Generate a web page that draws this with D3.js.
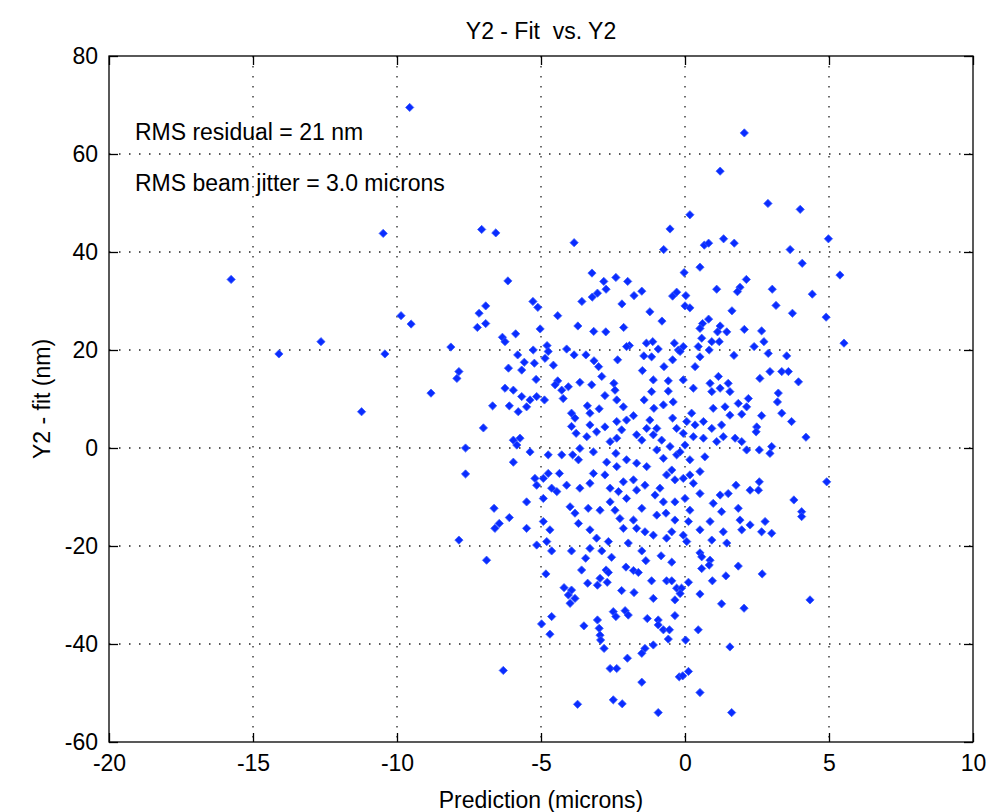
<!DOCTYPE html>
<html>
<head>
<meta charset="utf-8">
<script src="https://cdn.jsdelivr.net/npm/d3@7"></script>
<style>
  body { margin: 0; background: #fff; }
  text { font-family: "Liberation Sans", Arial, sans-serif; fill: #000; }
</style>
</head>
<body>
<svg id="chart"></svg>
<script>
// axis ticks
const xTicks = [-20, -15, -10, -5, 0, 5, 10];
const yTicks = [-60, -40, -20, 0, 20, 40, 60, 80];

// [prediction (microns), Y2 - fit (nm)]
const outlierPoints = [
  [-10.48,43.8],[-7.06,44.6],[-15.76,34.4],[-9.86,27.0],[-9.51,25.3],[-6.92,29.0],[-7.15,27.5],[-6.92,25.4],
  [-7.21,24.6],[-12.64,21.7],[-14.10,19.2],[-10.42,19.2],[-8.13,20.6],[-7.85,15.6],[-7.92,14.2],[-8.82,11.2],
  [-11.23,7.4],[-7.00,4.1],[-7.62,0.0],[-7.62,-5.3],[-7.85,-18.8],[-6.89,-22.9],[-9.56,69.5],[2.06,64.3],[1.22,56.5]
];
const upperLeftPoints = [
  [-6.57,43.9],[-3.85,41.9],[-0.52,44.7],[-0.74,40.5],[-6.15,34.1],[-3.23,35.7],[-2.82,34.0],[-2.40,34.8],
  [-1.99,34.0],[-2.74,32.4],[-3.04,31.6],[-3.22,30.8],[-3.58,29.9],[-1.50,32.0],[-1.77,31.1],[-2.19,29.4],
  [-1.22,27.8],[-5.28,29.9],[-5.11,28.7],[-4.42,27.0],[-3.72,24.9],[-5.03,24.3],[-3.17,23.8],[-2.75,23.7],
  [-2.13,24.6],[-0.80,25.9],[-0.43,31.0],[-0.29,31.8],[-6.34,22.6],[-6.25,21.7],[-5.88,23.3],[-1.93,20.9],
  [-4.79,20.9],[-5.27,20.0],[-4.75,19.7],[-4.11,20.2],[-3.85,19.0],[-3.44,19.0],[-3.16,17.8],[-3.00,16.6],
  [-2.34,18.0],[-1.34,21.4],[-1.12,21.7],[-0.93,20.2],[-1.43,18.8],[-1.16,18.6],[-1.48,15.8],[-0.73,16.6],
  [-0.43,18.0],[-0.37,21.4],[-0.23,20.0],[-5.81,19.0],[-5.58,17.5],[-5.67,15.9],[-6.13,16.3],[-4.57,16.9],
  [-5.23,17.3],[-4.86,18.3],[-2.03,20.7]
];
const upperRightPoints = [
  [2.88,49.9],[4.00,48.7],[0.17,47.6],[1.34,42.7],[0.67,41.4],[0.82,41.8],[1.71,41.8],[4.98,42.7],
  [3.65,40.5],[4.07,37.7],[0.52,36.9],[-0.03,35.8],[2.13,34.4],[1.91,32.8],[1.82,31.9],[1.10,32.4],
  [3.03,32.4],[5.38,35.3],[4.42,31.4],[3.16,29.1],[0.03,31.1],[0.00,29.0],[0.17,28.6],[1.63,28.0],
  [3.73,27.5],[4.90,26.7],[0.82,26.3],[0.61,25.4],[0.52,24.4],[1.22,24.9],[1.13,23.7],[1.45,23.7],
  [2.06,24.2],[2.66,23.9],[2.74,21.7],[0.58,22.4],[0.93,21.7],[1.19,21.7],[0.46,20.7],[0.84,20.0],
  [2.40,20.7],[2.89,19.3],[1.70,18.9],[3.53,18.8],[5.52,21.4],[0.52,18.6],[0.35,16.6],[-0.06,20.7],
  [-0.17,19.7],[2.95,15.6],[3.36,15.6],[3.59,15.6]
];
const middleLeftPoints = [
  [-5.17,14.0],[-4.42,13.7],[-3.65,13.4],[-3.24,12.9],[-2.89,14.6],[-2.47,13.2],[-2.43,11.8],[-1.10,13.9],
  [-0.58,13.7],[-0.58,11.6],[-0.75,8.8],[-5.96,11.8],[-5.67,10.5],[-5.38,9.8],[-5.15,10.5],[-5.50,8.4],
  [-5.79,7.4],[-6.10,8.6],[-6.68,8.6],[-4.88,9.8],[-4.28,11.8],[-4.23,10.1],[-4.05,12.5],[-3.39,8.6],
  [-2.98,8.0],[-2.78,10.7],[-2.37,9.8],[-2.14,8.4],[-1.79,6.6],[-2.03,5.7],[-1.42,9.8],[-1.08,8.1],
  [-1.22,5.7],[-0.98,4.0],[-1.33,4.0],[-0.41,9.4],[-0.43,6.1],[-0.29,4.0],[-3.94,4.4],[-3.78,3.0],
  [-3.30,4.7],[-3.07,3.3],[-3.41,2.3],[-2.78,4.3],[-2.37,5.4],[-2.20,3.7],[-2.37,2.0],[-2.60,1.3],
  [-1.68,2.7],[-1.50,1.6],[-1.10,2.7],[-0.81,1.6],[-0.52,0.3],[-0.29,-1.4],[-5.96,1.6],[-5.73,2.0],
  [-5.84,0.6],[-5.38,-0.8],[-4.75,-1.4],[-4.28,-1.4],[-3.90,-1.4],[-3.65,-0.1],[-3.18,-0.8],[-3.70,-2.4],
  [-5.96,-2.9],[-2.72,-2.9],[-2.40,-1.1],[-2.03,-2.4],[-1.68,-3.1],[-1.33,-3.8],[-0.98,-0.4],[-0.75,-2.1],
  [-0.46,-4.5],[-0.35,-6.5],[-0.64,-5.5],[-4.75,-5.2],[-4.92,-6.2],[-5.21,-6.2],[-5.15,-7.6],[-4.36,-5.2],
  [-4.63,-8.2],[-4.45,-8.9],[-4.11,-7.6],[-3.65,-8.2],[-3.30,-7.2],[-3.18,-5.2],[-2.78,-5.5],[-2.60,-8.2],
  [-2.31,-8.9],[-2.37,-3.8],[-2.14,-6.9],[-1.79,-6.5],[-1.68,-8.6],[-2.03,-10.3],[-1.39,-7.6],[-1.04,-9.6],
  [-0.87,-8.2],[-0.75,-11.0],[-5.50,-11.0],[-4.92,-10.3],[-3.99,-12.0],[-3.82,-13.3],[-3.36,-12.3],[-2.95,-12.7],
  [-2.60,-11.0],[-2.43,-12.7],[-2.26,-14.4],[-1.79,-14.7],[-1.50,-12.3],[-1.68,-16.4],[-0.98,-13.7],[-0.66,-13.3],
  [-0.35,-11.0],[-6.63,-12.3],[-6.10,-14.2],[-6.45,-15.4],[-6.60,-16.4],[-5.50,-16.4],[-4.92,-15.0],[-4.69,-16.7],
  [-4.80,-19.1],[-3.70,-15.4],[-3.30,-16.7],[-3.07,-18.4],[-2.66,-19.1],[-3.30,-20.5],[-2.14,-16.4],[-1.97,-19.4],
  [-1.39,-17.1],[-1.10,-17.8],[-0.64,-18.4],[-0.35,-14.7],[-0.46,-17.1],[-5.15,-19.8],[-4.51,12.9],[-6.25,12.2],
  [-3.30,7.1],[-3.94,7.1],[-3.82,6.1],[-1.16,11.5]
];
const middleRightPoints = [
  [-0.06,13.9],[0.29,12.2],[0.87,13.2],[0.93,11.5],[1.22,12.2],[1.50,13.2],[1.56,11.5],[1.16,14.6],
  [2.60,14.2],[3.94,13.5],[3.24,11.2],[3.21,9.4],[2.20,10.1],[0.98,8.1],[1.39,8.4],[1.85,9.1],
  [2.14,8.4],[1.56,6.7],[1.97,6.9],[2.66,6.6],[3.36,7.1],[3.70,5.4],[2.49,4.3],[2.47,3.3],
  [4.20,2.2],[0.23,7.1],[0.06,5.4],[0.35,4.7],[0.64,5.4],[0.93,4.0],[1.27,4.7],[-0.06,3.0],
  [0.29,2.3],[0.64,2.0],[1.10,1.3],[1.33,2.3],[1.74,2.0],[1.97,1.3],[2.14,-0.4],[2.58,-0.4],
  [2.95,-1.1],[3.01,0.3],[0.69,-1.8],[0.17,-2.4],[0.52,-4.8],[0.17,-5.5],[-0.06,-6.2],[0.29,-7.2],
  [1.77,-7.6],[2.26,-8.6],[2.58,-6.9],[2.55,-8.6],[0.52,-9.3],[1.22,-9.6],[1.50,-9.3],[0.98,-11.3],
  [0.00,-10.3],[4.92,-6.9],[3.78,-10.6],[4.05,-13.0],[4.05,-14.0],[1.85,-12.3],[1.27,-13.0],[0.87,-15.0],
  [0.17,-12.7],[0.12,-15.0],[1.91,-14.7],[2.26,-15.7],[2.78,-15.0],[3.01,-17.4],[1.97,-16.7],[2.66,-17.1],
  [1.33,-17.1],[0.93,-18.8],[1.45,-19.4],[-0.06,-17.8],[0.06,-19.1],[0.52,-16.7],[0.00,0.6],[-0.17,-0.8]
];
const lowerLeftPoints = [
  [-4.63,-21.0],[-3.94,-21.0],[-2.89,-21.0],[-1.50,-21.0],[-3.45,-22.5],[-2.55,-22.3],[-0.83,-22.0],[-0.46,-23.3],
  [-1.36,-23.0],[-4.83,-25.7],[-3.59,-24.9],[-2.74,-24.9],[-2.66,-25.4],[-2.05,-24.3],[-1.79,-25.0],[-1.62,-25.4],
  [-2.95,-26.6],[-3.38,-27.6],[-3.04,-28.0],[-2.70,-27.4],[-1.16,-27.1],[-0.64,-27.1],[-0.46,-27.1],[-0.29,-28.6],
  [-4.20,-28.5],[-3.94,-29.0],[-4.05,-30.0],[-3.82,-30.7],[-3.99,-31.7],[-2.20,-29.1],[-1.77,-29.5],[-1.10,-30.7],
  [-0.35,-31.0],[-2.49,-33.4],[-2.08,-33.2],[-1.97,-34.1],[-2.40,-34.4],[-0.35,-34.2],[-4.63,-34.4],[-4.98,-35.9],
  [-4.69,-38.0],[-3.51,-36.3],[-3.04,-35.1],[-2.98,-36.8],[-2.95,-38.2],[-2.93,-39.2],[-2.81,-40.9],[-1.31,-34.8],
  [-0.93,-35.1],[-0.93,-36.1],[-0.75,-37.1],[-0.54,-37.1],[-0.58,-39.0],[-1.10,-40.2],[-1.39,-40.9],[-1.50,-41.9],
  [-2.00,-42.9],[-2.60,-45.0],[-2.37,-45.0],[-6.31,-45.4],[-1.50,-47.8],[-2.49,-51.4],[-2.18,-52.2],[-3.73,-52.3],
  [-0.93,-54.0],[-0.20,-46.7]
];
const lowerRightPoints = [
  [0.52,-21.4],[0.58,-22.2],[0.87,-22.9],[0.84,-23.9],[0.58,-24.6],[1.85,-24.1],[2.68,-25.7],[1.42,-26.1],
  [0.95,-27.1],[0.12,-27.4],[-0.12,-28.6],[0.52,-29.8],[1.27,-31.8],[2.05,-32.7],[4.34,-31.0],[0.46,-37.1],
  [0.02,-39.2],[1.56,-40.6],[0.12,-45.6],[-0.08,-46.5],[0.52,-49.9],[1.62,-54.0],[-0.17,-29.7]
];

const width = 992, height = 812;
const svg = d3.select("#chart").attr("width", width).attr("height", height);
svg.append("rect").attr("width", width).attr("height", height).attr("fill", "#fff");

const x = d3.scaleLinear().domain([-20, 10]).range([109, 973]);
const y = d3.scaleLinear().domain([-60, 80]).range([742, 56]);

const grid = svg.append("g");
grid.selectAll(".gx")
  .data(xTicks.slice(1, -1))
  .enter().append("line")
  .attr("x1", d => x(d)).attr("x2", d => x(d))
  .attr("y1", y(80)).attr("y2", y(-60))
  .attr("stroke", "#222").attr("stroke-width", 1.3)
  .attr("stroke-dasharray", "1.5,8.5");
grid.selectAll(".gy")
  .data(yTicks.slice(1, -1))
  .enter().append("line")
  .attr("y1", d => y(d)).attr("y2", d => y(d))
  .attr("x1", x(-20)).attr("x2", x(10))
  .attr("stroke", "#222").attr("stroke-width", 1.3)
  .attr("stroke-dasharray", "1.5,8.5");

// diamond marker like matlab's 'd'
const diamond = {
  draw(ctx, size) {
    const r = Math.sqrt(size / 2);
    ctx.moveTo(0, -r);
    ctx.lineTo(r, 0);
    ctx.lineTo(0, r);
    ctx.lineTo(-r, 0);
    ctx.closePath();
  }
};

const allPoints = [].concat(outlierPoints, upperLeftPoints, upperRightPoints,
  middleLeftPoints, middleRightPoints, lowerLeftPoints, lowerRightPoints);

svg.append("g").selectAll("path")
  .data(allPoints)
  .enter().append("path")
  .attr("transform", d => "translate(" + x(d[0]) + "," + y(d[1]) + ")")
  .attr("d", d3.symbol(diamond, 34))
  .attr("fill", "#0a2cff")
  .attr("stroke", "#3a5cff")
  .attr("stroke-width", 0.8);

// axes, ticks pointing inwards; plain hyphen for negatives like matlab
const fmt = d => String(d);
const axisB = svg.append("g").attr("transform", "translate(0," + y(-60) + ")")
  .call(d3.axisBottom(x).tickValues(xTicks).tickSize(-9).tickPadding(13).tickFormat(fmt));
const axisL = svg.append("g").attr("transform", "translate(" + x(-20) + ",0)")
  .call(d3.axisLeft(y).tickValues(yTicks).tickSize(-9).tickPadding(11).tickFormat(fmt));
const axisT = svg.append("g").attr("transform", "translate(0," + y(80) + ")")
  .call(d3.axisTop(x).tickValues(xTicks).tickSize(-9).tickFormat(""));
const axisR = svg.append("g").attr("transform", "translate(" + x(10) + ",0)")
  .call(d3.axisRight(y).tickValues(yTicks).tickSize(-9).tickFormat(""));

[axisB, axisL, axisT, axisR].forEach(g => {
  g.select(".domain").remove();
  g.selectAll(".tick line").attr("stroke", "#000").attr("stroke-width", 1.3);
  g.selectAll("text").attr("font-size", 23).attr("fill", "#000")
    .style("font-family", "'Liberation Sans', Arial, sans-serif");
});

svg.append("rect")
  .attr("x", x(-20)).attr("y", y(80))
  .attr("width", x(10) - x(-20)).attr("height", y(-60) - y(80))
  .attr("fill", "none").attr("stroke", "#000").attr("stroke-width", 1.3);

// labels
svg.append("text").attr("x", (x(-20) + x(10)) / 2).attr("y", 39)
  .attr("text-anchor", "middle").attr("font-size", 23).text("Y2 - Fit  vs. Y2")
  .style("white-space", "pre");
svg.append("text").attr("x", (x(-20) + x(10)) / 2).attr("y", 808)
  .attr("text-anchor", "middle").attr("font-size", 23).text("Prediction (microns)");
svg.append("text")
  .attr("transform", "translate(50," + (y(-60) + y(80)) / 2 + ") rotate(-90)")
  .attr("text-anchor", "middle").attr("font-size", 23).text("Y2 - fit (nm)");

svg.append("text").attr("x", x(-19.1)).attr("y", y(64.5)).attr("dy", "0.35em")
  .attr("font-size", 23).text("RMS residual = 21 nm");
svg.append("text").attr("x", x(-19.1)).attr("y", y(54)).attr("dy", "0.35em")
  .attr("font-size", 23).text("RMS beam jitter = 3.0 microns");
</script>
</body>
</html>
